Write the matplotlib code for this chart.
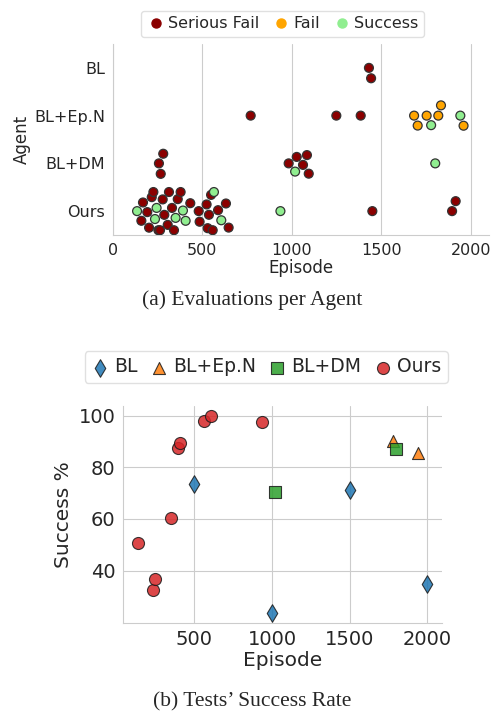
import matplotlib
matplotlib.use("Agg")
import matplotlib.pyplot as plt
import seaborn as sns
import pandas as pd
from matplotlib.lines import Line2D

# (a) evaluations per agent: episode of each evaluation, split by outcome
agents = ["BL", "BL+Ep.N", "BL+DM", "Ours"]
outcomes = ["Serious Fail", "Fail", "Success"]

bl_serious = [1430, 1442]
bl_fail = []
bl_success = []

epn_serious = [770, 1248, 1384]
epn_fail = [1682, 1702, 1752, 1817, 1832, 1958]
epn_success = [1777, 1940]

dm_serious = [258, 268, 282, 982, 1027, 1062, 1084, 1094]
dm_fail = []
dm_success = [1018, 1800]

ours_serious = [160, 169, 193, 203, 218, 227, 255, 264, 279, 288, 307, 314,
                331, 342, 363, 379, 433, 480, 485, 524, 530, 537, 549, 558,
                588, 632, 647, 1449, 1894, 1914]
ours_fail = []
ours_success = [136, 236, 245, 351, 392, 407, 565, 606, 936]

# (b) tests' success rate
bl_test_ep = [500, 1000, 1500, 2000]
bl_test_rate = [73.4, 23.6, 71.4, 34.7]
epn_test_ep = [1777, 1940]
epn_test_rate = [90.2, 85.4]
dm_test_ep = [1018, 1800]
dm_test_rate = [70.5, 87.0]
ours_test_ep = [136, 236, 245, 351, 392, 407, 565, 606, 936]
ours_test_rate = [50.8, 32.3, 36.8, 60.3, 87.5, 89.4, 98.1, 100.0, 97.5]

rows = []
groups = {
    "BL": (bl_serious, bl_fail, bl_success),
    "BL+Ep.N": (epn_serious, epn_fail, epn_success),
    "BL+DM": (dm_serious, dm_fail, dm_success),
    "Ours": (ours_serious, ours_fail, ours_success),
}
for agent in agents:
    for outcome, eps in zip(outcomes, groups[agent]):
        for e in eps:
            rows.append({"Agent": agent, "Episode": e, "Outcome": outcome})
df = pd.DataFrame(rows)

sns.set_style("whitegrid")
plt.rcParams["font.family"] = ["DejaVu Sans"]

W, H = 491, 715
fig = plt.figure(figsize=(W / 100, H / 100), dpi=100)

# ---- top: swarm plot
ax1 = fig.add_axes([112.7 / W, 1 - 235 / H, 376.3 / W, 191 / H])
out_colors = {"Serious Fail": "#8b0000", "Fail": "#ffa500", "Success": "#90ee90"}
sns.swarmplot(data=df, x="Episode", y="Agent", hue="Outcome", order=agents,
              hue_order=outcomes, palette=out_colors, size=6.4,
              edgecolor="0.2", linewidth=0.9, ax=ax1, legend=False)
ax1.set_xlim(0, 2100)
ax1.set_xticks([0, 500, 1000, 1500, 2000])
ax1.tick_params(labelsize=11.5, colors="0.15", pad=2)
ax1.set_xlabel("Episode", fontsize=12, color="0.15", labelpad=1)
ax1.set_ylabel("Agent", fontsize=12, color="0.15", labelpad=2)
ax1.yaxis.grid(False)
sns.despine(ax=ax1)
for s in ["left", "bottom"]:
    ax1.spines[s].set_color("0.8")

h1 = [Line2D([], [], ls="", marker="o", markersize=6.5, color=out_colors[o],
             label=o) for o in outcomes]
fig.legend(handles=h1, loc="center", bbox_to_anchor=(282.5 / W, 1 - 24 / H),
           ncol=3, fontsize=11.5, handletextpad=0.15, columnspacing=0.8,
           borderpad=0.35, handlelength=1.2, frameon=True,
           edgecolor="0.85", fancybox=True)

fig.text(252 / W, 1 - 300 / H, "(a) Evaluations per Agent",
         family="Liberation Serif", fontsize=15.5, ha="center", va="center")

# ---- bottom: scatter
ax2 = fig.add_axes([123.3 / W, 1 - 622.7 / H, 318.4 / W, 216.7 / H])
kw = dict(alpha=0.85, edgecolor="0.1", linewidth=0.8, zorder=3)
ax2.scatter(bl_test_ep, bl_test_rate, marker="d", s=80, color="#1f77b4",
            label="BL", **kw)
ax2.scatter(epn_test_ep, epn_test_rate, marker="^", s=75, color="#ff7f0e",
            label="BL+Ep.N", **kw)
ax2.scatter(dm_test_ep, dm_test_rate, marker="s", s=70, color="#2ca02c",
            label="BL+DM", **kw)
ax2.scatter(ours_test_ep, ours_test_rate, marker="o", s=75, color="#d62728",
            label="Ours", **kw)
ax2.set_xticks([500, 1000, 1500, 2000])
ax2.set_yticks([40, 60, 80, 100])
ax2.tick_params(labelsize=14, colors="0.15", pad=2)
ax2.set_xlabel("Episode", fontsize=14.5, color="0.15", labelpad=1)
ax2.set_ylabel("Success %", fontsize=14.5, color="0.15", labelpad=4)
sns.despine(ax=ax2)
for s in ["left", "bottom"]:
    ax2.spines[s].set_color("0.8")

fig.legend(*ax2.get_legend_handles_labels(), loc="center",
           bbox_to_anchor=(266.3 / W, 1 - 367 / H), ncol=4, fontsize=13.5,
           handletextpad=0.3, columnspacing=0.7, borderpad=0.35,
           handlelength=0.9, frameon=True, edgecolor="0.85", fancybox=True)

fig.text(252 / W, 1 - 702 / H, "(b) Tests\u2019 Success Rate",
         family="Liberation Serif", fontsize=15.5, ha="center", va="center")

fig.savefig("out.png", dpi=100)
